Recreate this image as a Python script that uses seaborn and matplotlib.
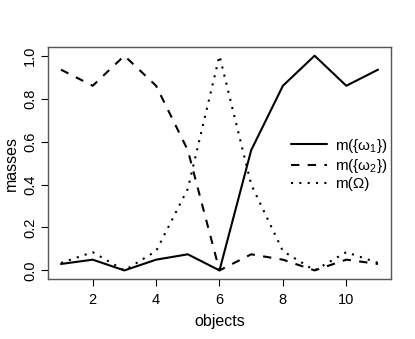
import matplotlib
matplotlib.use("Agg")
import matplotlib.pyplot as plt
import seaborn as sns
import pandas as pd

# data
objects = list(range(1, 12))
m_omega1 = [0.03, 0.05, 0.0, 0.05, 0.075, 0.0, 0.56, 0.86, 1.0, 0.86, 0.935]
m_omega2 = [0.935, 0.86, 1.0, 0.86, 0.56, 0.0, 0.075, 0.05, 0.0, 0.05, 0.03]
m_Omega = [0.035, 0.085, 0.0, 0.09, 0.38, 1.0, 0.40, 0.09, 0.0, 0.085, 0.035]
labels = ["m({ω$_1$})", "m({ω$_2$})", "m(Ω)"]
yticks = [0.0, 0.2, 0.4, 0.6, 0.8, 1.0]
xticks = [2, 4, 6, 8, 10]

df = pd.DataFrame({
    "objects": objects * 3,
    "masses": m_omega1 + m_omega2 + m_Omega,
    "series": [labels[0]] * 11 + [labels[1]] * 11 + [labels[2]] * 11,
})

sns.set_style("ticks")
plt.rcParams["font.family"] = ["Liberation Sans", "DejaVu Sans"]
plt.rcParams["mathtext.fontset"] = "custom"
plt.rcParams["mathtext.rm"] = "Liberation Sans"
plt.rcParams["mathtext.it"] = "Liberation Sans"
plt.rcParams["text.color"] = "black"
plt.rcParams["axes.labelcolor"] = "black"
plt.rcParams["xtick.color"] = "black"
plt.rcParams["ytick.color"] = "black"

fig = plt.figure(figsize=(4.15, 3.39), dpi=100)
ax = fig.add_axes([0.1164, 0.177, 0.825, 0.684])

dash_styles = {labels[0]: "", labels[1]: (4, 4), labels[2]: (1, 3)}
sns.lineplot(data=df, x="objects", y="masses", style="series",
             dashes=dash_styles, color="black", linewidth=1.5, ax=ax)

ax.set_xlim(0.6, 11.4)
ax.set_ylim(-0.04, 1.04)
ax.set_xticks(xticks)
ax.set_yticks(yticks)
ax.set_yticklabels([f"{v:.1f}" for v in yticks], rotation=90, va="center")
ax.tick_params(direction="out", length=5, width=0.8, labelsize=10.5)
ax.tick_params(axis="x", pad=5)
ax.tick_params(axis="y", pad=3)
for s in ax.spines.values():
    s.set_visible(True)
    s.set_color("#555555")
    s.set_linewidth(1.0)
ax.set_xlabel("objects", fontsize=11.5, labelpad=5)
ax.set_ylabel("masses", fontsize=11.5, labelpad=3)

leg = ax.legend(loc="upper left", bbox_to_anchor=(0.69, 0.64), frameon=False,
                fontsize=11, handlelength=2.4, handletextpad=0.5,
                labelspacing=0.15, borderaxespad=0, title=None)

fig.savefig("out.png", dpi=100)
